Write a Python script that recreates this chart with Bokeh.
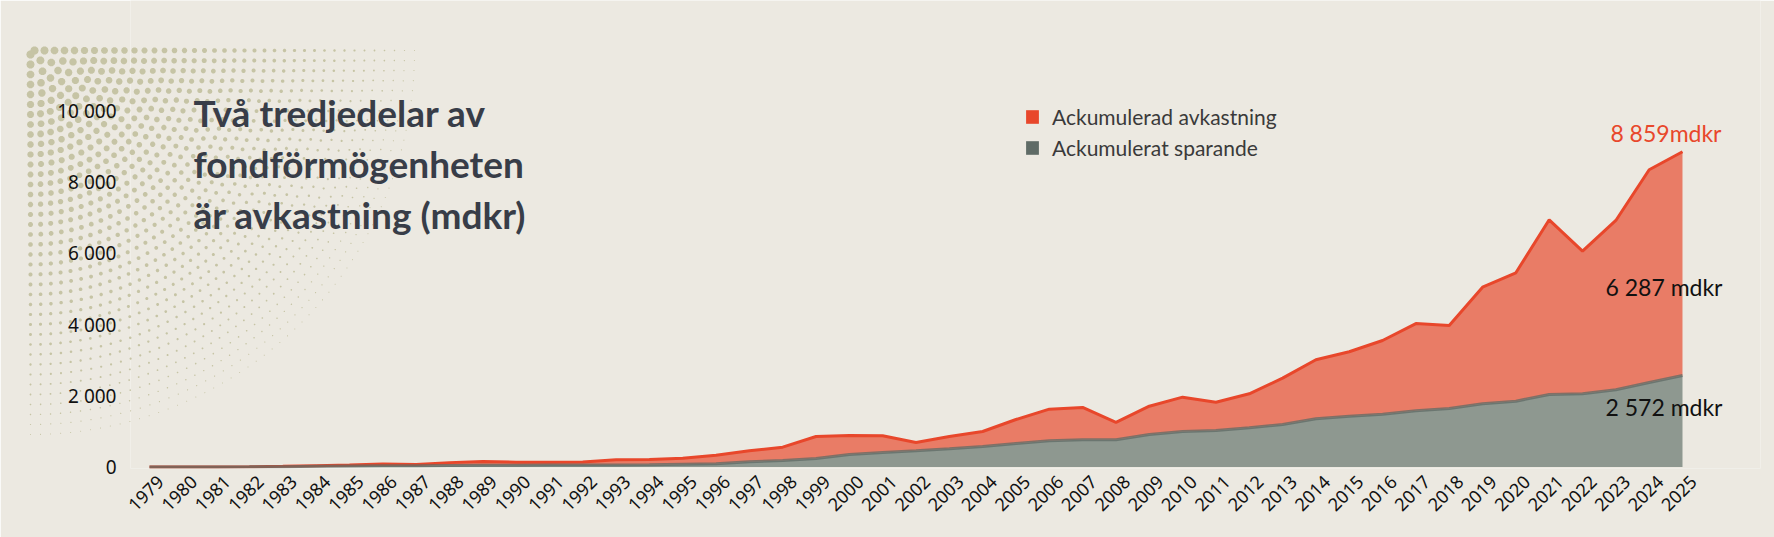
import numpy as np
from bokeh.plotting import figure
from bokeh.models import ColumnDataSource, Range1d, FixedTicker, Legend, LegendItem, Label
from bokeh.core.properties import value
from bokeh.embed import file_html
from bokeh.resources import INLINE

# ---------------- data ----------------
years = list(range(1979, 2026))
totalt = [0, 2, 5, 10, 20, 40, 60, 85, 75, 125, 160, 135, 135, 145, 205, 213, 250, 335,
          457, 560, 860, 888, 879, 691, 860, 1000, 1337, 1627, 1674, 1253, 1710, 1964,
          1823, 2059, 2497, 3014, 3239, 3556, 4030, 3978, 5053, 5458, 6946, 6065, 6927,
          8351, 8859]
sparande = [0, 1, 3, 6, 12, 20, 28, 35, 40, 45, 50, 52, 55, 57, 60, 65, 80, 92, 150, 185,
            242, 354, 410, 457, 513, 578, 662, 738, 766, 766, 915, 1000, 1028, 1104, 1197,
            1357, 1430, 1486, 1580, 1646, 1778, 1851, 2039, 2059, 2171, 2376, 2572]
avkastning = [t - s for t, s in zip(totalt, sparande)]

series_names = ["Ackumulerad avkastning", "Ackumulerat sparande"]
y_ticks = [0, 2000, 4000, 6000, 8000, 10000]
y_tick_labels = ["0", "2 000", "4 000", "6 000", "8 000", "10 000"]
title_lines = ["Två tredjedelar av", "fondförmögenheten", "är avkastning (mdkr)"]


def fmt(v):
    return f"{v:,}".replace(",", " ")


label_total = fmt(totalt[-1]) + "mdkr"
label_avk = fmt(avkastning[-1]) + " mdkr"
label_spar = fmt(sparande[-1]) + " mdkr"

# ---------------- styling / layout ----------------
BG = "#ECE9E1"
RED_FILL = "#E97C66"
RED_LINE = "#E8472B"
GRAY_FILL = "#8E9890"
GRAY_LINE = "#5F6B66"
TITLE_C = "#383D48"
TEXT_C = "#3A3A3A"
DOT_C = "#C6C4A5"

W, H = 1774, 537
FL, FRM, FT, FBM = 130, 14, 0, 69
frame_w = W - FL - FRM
frame_h = H - FT - FBM
PX_YEAR = 33.326
PX_UNIT = 0.0356
x_start = 1979 - (149 - FL) / PX_YEAR
x_end = x_start + frame_w / PX_YEAR
y_start = -40
y_end = y_start + frame_h / PX_UNIT
LABEL_SHIFT = 11 / PX_YEAR  # rotated year labels sit slightly right of each year


def sx_to_x(sx):
    return x_start + (sx - FL) / PX_YEAR


def sy_to_y(sy):
    return y_start + (FT + frame_h - sy) / PX_UNIT


p = figure(width=W, height=H, x_range=Range1d(x_start, x_end), y_range=Range1d(y_start, y_end),
           output_backend="svg", toolbar_location=None,
           min_border_left=FL, min_border_right=FRM, min_border_top=FT, min_border_bottom=FBM,
           background_fill_color=BG, border_fill_color=BG, outline_line_color=None)
p.grid.visible = False

# ---------------- decorative halftone (top-left) ----------------
CX, CY, R = 30, 50, 440
px_, py_ = [], []
theta = np.linspace(0, 2 * np.pi, 11)[:-1]
for r in np.arange(4, R, 10.0):
    n = max(1, int(np.pi / 2 * r / 10))
    for k in range(n + 1):
        a = k / n * np.pi / 2
        s = 8.5 * (1 - r / R)
        if s < 0.9:
            continue
        cx = CX + r * np.cos(a)
        cy = CY + r * np.sin(a)
        px_.extend(list(sx_to_x(cx + s / 2 * np.cos(theta))) + [np.nan])
        py_.extend(list(sy_to_y(cy + s / 2 * np.sin(theta))) + [np.nan])
p.patch(px_[:-1], py_[:-1], fill_color=DOT_C, line_color=None, level="guide")

# ---------------- areas ----------------
src = ColumnDataSource(dict(year=years, sparande=sparande, avkastning=avkastning, totalt=totalt))
p.varea_stack(["sparande", "avkastning"], x="year", source=src, color=[GRAY_FILL, RED_FILL])
p.line("year", "totalt", source=src, line_color=RED_LINE, line_width=3)
p.line("year", "sparande", source=src, line_color=GRAY_LINE, line_width=3, line_alpha=0.75)

# ---------------- end labels ----------------
p.text(x=[years[-1]], y=[totalt[-1]], text=[label_total], text_align="right",
       text_baseline="middle", x_offset=39, y_offset=-19, text_color=RED_LINE,
       text_font=value("Lato"), text_font_size="23px")
p.text(x=[years[-1]], y=[sparande[-1] + avkastning[-1] / 2], text=[label_avk], text_align="right",
       text_baseline="middle", x_offset=40, y_offset=23, text_color="#111111",
       text_font=value("Lato"), text_font_size="23px")
p.text(x=[years[-1]], y=[sparande[-1]], text=[label_spar], text_align="right",
       text_baseline="middle", x_offset=40, y_offset=31, text_color="#111111",
       text_font=value("Lato"), text_font_size="23px")

# ---------------- legend ----------------
r_red = p.quad(left=[years[0]], right=[years[0]], top=[0], bottom=[0],
               fill_color=RED_LINE, line_color=None)
r_gray = p.quad(left=[years[0]], right=[years[0]], top=[0], bottom=[0],
                fill_color=GRAY_LINE, line_color=None)
legend = Legend(items=[LegendItem(label=series_names[0], renderers=[r_red]),
                       LegendItem(label=series_names[1], renderers=[r_gray])],
                location=(1024 - FL, 308), padding=0, margin=0, spacing=6,
                glyph_width=16, glyph_height=17, label_standoff=12,
                label_text_font="Lato", label_text_font_size="21px", label_text_color=TEXT_C,
                background_fill_alpha=0, border_line_color=None)
p.add_layout(legend)

# ---------------- title ----------------
for line, base in zip(title_lines, [112, 163, 213.5]):
    p.add_layout(Label(x=sx_to_x(193), y=sy_to_y(base), text=line, text_baseline="alphabetic",
                       text_font="Lato", text_font_size="37px", text_font_style="bold",
                       text_color=TITLE_C))

# ---------------- axes ----------------
xa = p.xaxis[0]
xa.ticker = FixedTicker(ticks=[y + LABEL_SHIFT for y in years])
xa.major_label_overrides = {y + LABEL_SHIFT: str(y) for y in years}
xa.major_label_orientation = np.pi / 4
xa.axis_line_color = None
xa.major_tick_line_color = None
xa.minor_tick_line_color = None
xa.major_tick_out = 0
xa.major_label_standoff = 10
xa.major_label_text_font = "Noto Sans"
xa.major_label_text_font_size = "18px"
xa.major_label_text_color = "#111111"

ya = p.yaxis[0]
ya.ticker = FixedTicker(ticks=y_ticks)
ya.major_label_overrides = {t: l for t, l in zip(y_ticks, y_tick_labels)}
ya.axis_line_color = None
ya.major_tick_line_color = None
ya.minor_tick_line_color = None
ya.major_tick_out = 0
ya.major_label_standoff = 14
ya.major_label_text_font = "Noto Sans"
ya.major_label_text_font_size = "19px"
ya.major_label_text_color = "#111111"

open("out.html", "w").write(file_html(p, INLINE))
